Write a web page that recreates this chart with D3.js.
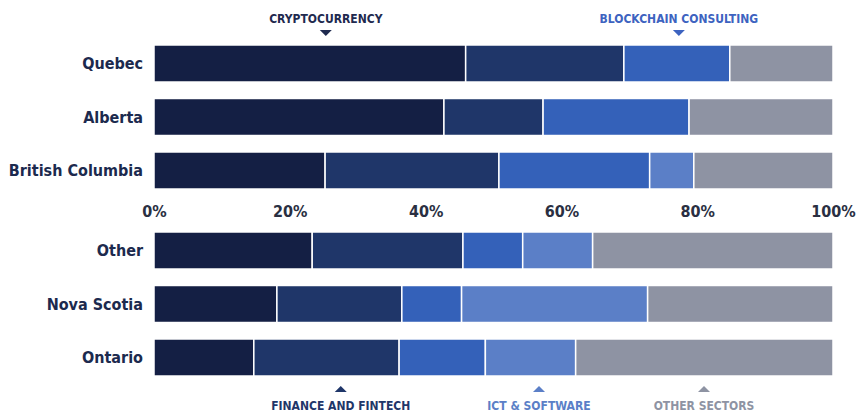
<!DOCTYPE html>
<html>
<head>
<meta charset="utf-8">
<script src="https://d3js.org/d3.v7.min.js"></script>
<style>
  body { margin: 0; background: #fff; }
  text { font-family: "DejaVu Sans Condensed", "DejaVu Sans", sans-serif; font-stretch: condensed; }
</style>
</head>
<body>
<div id="vis"></div>
<script>
// data (percent shares per province)
const topRegions = ["Quebec", "Alberta", "British Columbia"];
const bottomRegions = ["Other", "Nova Scotia", "Ontario"];
const sectors = ["Cryptocurrency", "Finance and Fintech", "Blockchain Consulting", "ICT & Software", "Other Sectors"];
const cryptocurrency = [45.9, 42.7, 25.2, 23.3, 18.1, 14.7];
const finance = [23.3, 14.6, 25.6, 22.2, 18.4, 21.4];
const blockchain = [15.6, 21.5, 22.2, 8.8, 8.8, 12.7];
const ictSoftware = [0, 0, 6.5, 10.3, 27.4, 13.3];
const otherSectors = [15.2, 21.2, 20.5, 35.4, 27.3, 37.9];
const ticks = [0, 20, 40, 60, 80, 100];

const colors = ["#141f44", "#1f3669", "#3461b9", "#5b7fc7", "#8e93a3"];
const labelColors = ["#1f2a4f", "#1f3669", "#3d63c0", "#5b7fc7", "#8e93a3"];

const W = 860, H = 413;
const svg = d3.select("#vis").append("svg").attr("width", W).attr("height", H);

const regions = topRegions.concat(bottomRegions);
const rows = regions.map((r, i) => {
  const vals = [cryptocurrency[i], finance[i], blockchain[i], ictSoftware[i], otherSectors[i]];
  const o = { region: r };
  sectors.forEach((s, j) => o[s] = vals[j]);
  return o;
});
const stacked = d3.stack().keys(sectors)(rows);

const x = d3.scaleLinear().domain([0, 100]).range([154, 833]);
const yTop = d3.scaleBand().domain(topRegions).range([36.75, 197.25]).paddingInner(0.308).paddingOuter(0.154);
const yBot = d3.scaleBand().domain(bottomRegions).range([223.75, 384.25]).paddingInner(0.308).paddingOuter(0.154);
const y = r => topRegions.includes(r) ? yTop(r) : yBot(r);
const bw = yTop.bandwidth();

// bars
svg.selectAll("g.layer")
  .data(stacked)
  .join("g")
  .attr("class", "layer")
  .attr("fill", (d, i) => colors[i])
  .selectAll("rect")
  .data(d => d.filter(s => s[1] - s[0] > 0))
  .join("rect")
  .attr("x", d => x(d[0]))
  .attr("y", d => y(d.data.region))
  .attr("width", d => x(d[1]) - x(d[0]))
  .attr("height", bw)
  .attr("stroke", "#fff")
  .attr("stroke-width", 1.5);

// region labels
svg.selectAll("text.region")
  .data(regions)
  .join("text")
  .attr("class", "region")
  .attr("x", 143)
  .attr("y", d => y(d) + bw / 2)
  .attr("dy", "0.36em")
  .attr("text-anchor", "end")
  .attr("fill", "#1c2a4e")
  .attr("font-size", 16)
  .attr("font-weight", "bold")
  .text(d => d);

// percent axis between groups
const axis = svg.append("g")
  .attr("transform", "translate(0,217)")
  .call(d3.axisTop(x).tickValues(ticks).tickFormat(d => d + "%").tickSize(0).tickPadding(0));
axis.select(".domain").remove();
axis.selectAll("text")
  .attr("font-family", null)
  .attr("font-size", 16)
  .attr("font-weight", "bold")
  .attr("fill", "#2a2f42")
  .attr("dy", 0);

// sector callouts
const callouts = [
  { sector: 0, pos: 25.3, top: true },
  { sector: 2, pos: 77.3, top: true },
  { sector: 1, pos: 27.5, top: false },
  { sector: 3, pos: 56.7, top: false },
  { sector: 4, pos: 81.0, top: false }
];
const cg = svg.selectAll("g.callout")
  .data(callouts)
  .join("g")
  .attr("class", "callout")
  .attr("transform", d => `translate(${x(d.pos)},0)`);
cg.append("text")
  .attr("y", d => d.top ? 23 : 410)
  .attr("text-anchor", "middle")
  .attr("font-size", 12)
  .attr("font-weight", "bold")
  .attr("fill", d => labelColors[d.sector])
  .text(d => sectors[d.sector].toUpperCase());
cg.append("path")
  .attr("d", d => d.top ? "M-6,30L6,30L0,36Z" : "M-6,392L6,392L0,386Z")
  .attr("fill", d => labelColors[d.sector]);
</script>
</body>
</html>
